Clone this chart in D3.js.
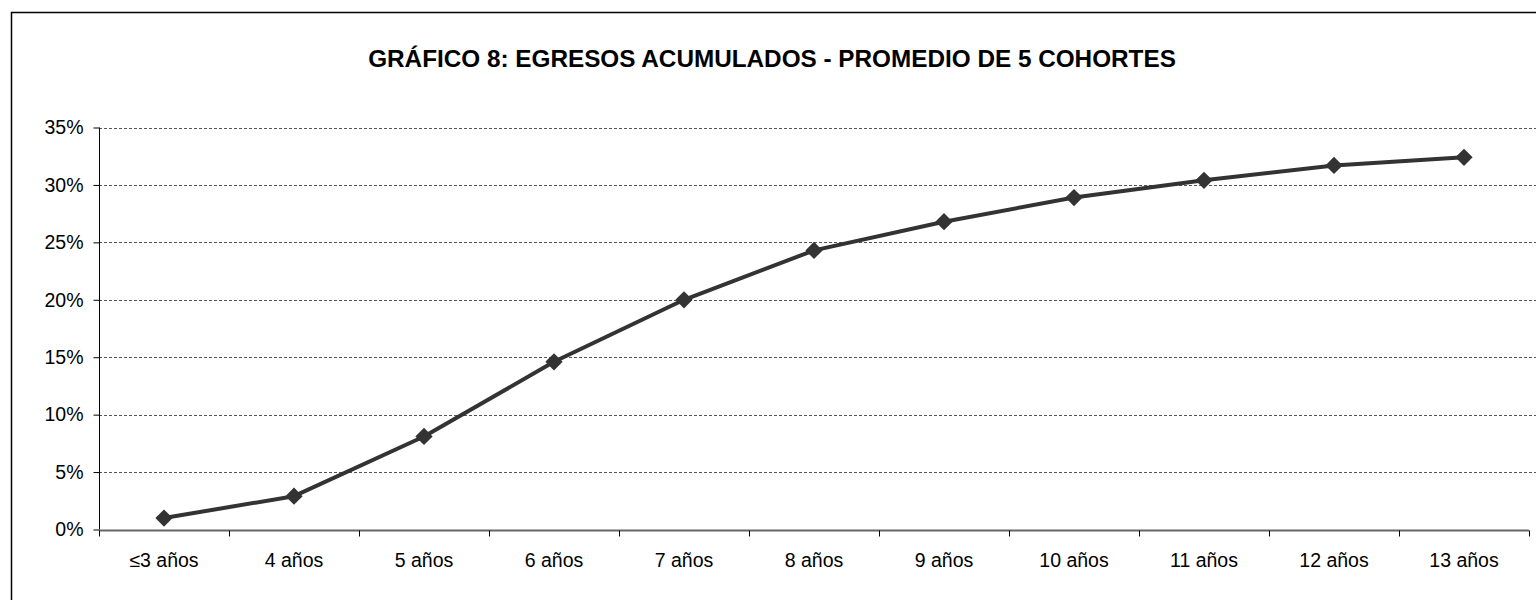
<!DOCTYPE html>
<html lang="es">
<head>
  <meta charset="UTF-8">
  <title>Gráfico 8</title>
  <style>
    body { margin: 0; background: #fff; }
    svg { display: block; font-family: "Liberation Sans", Arial, sans-serif; }
  </style>
</head>
<body>
  <svg id="svg" width="1536" height="600"></svg>
  <script src="https://d3js.org/d3.v7.min.js"></script>
  <script>
    const categories = ['≤3 años', '4 años', '5 años', '6 años', '7 años', '8 años', '9 años', '10 años', '11 años', '12 años', '13 años']
    const values = [1.0, 2.9, 8.1, 14.6, 20.0, 24.3, 26.8, 28.9, 30.4, 31.7, 32.4]
    const yTicks = [0, 5, 10, 15, 20, 25, 30, 35]
    const title = 'GRÁFICO 8: EGRESOS ACUMULADOS - PROMEDIO DE 5 COHORTES'

    const svg = d3.select('#svg')

    // outer frame
    svg.append('rect')
      .attr('x', 11.5).attr('y', 12.5)
      .attr('width', 1540).attr('height', 600)
      .attr('fill', 'none').attr('stroke', '#000').attr('stroke-width', 1.5)

    svg.append('text')
      .attr('x', 772).attr('y', 67)
      .attr('text-anchor', 'middle')
      .style('font-weight', 'bold')
      .style('font-size', '24.3px')
      .text(title)

    const xScale = d3.scaleBand()
      .domain(categories)
      .range([99, 1529])

    const yScale = d3.scaleLinear()
      .domain([0, 35])
      .range([529.5, 127.5])

    // grid lines
    svg.append('g')
      .selectAll('line')
      .data(yTicks.filter(d => d > 0))
      .enter()
      .append('line')
      .attr('x1', 99).attr('x2', 1536)
      .attr('y1', d => Math.round(yScale(d)) + 0.5)
      .attr('y2', d => Math.round(yScale(d)) + 0.5)
      .attr('stroke', '#555')
      .attr('stroke-dasharray', '3,2')
      .attr('stroke-width', 1)

    // y axis
    const yAxis = svg.append('g')
      .attr('transform', 'translate(99.5,0)')
      .call(d3.axisLeft(yScale).tickValues(yTicks).tickSize(6).tickPadding(10).tickFormat(d => d + '%'))
    yAxis.select('.domain').attr('stroke', '#000').attr('d', `M0,${yScale(35)}V${yScale(0)}`)
    yAxis.selectAll('.tick line').attr('stroke', '#000')
    yAxis.selectAll('text')
      .style('font-size', '19.5px')
      .style('font-family', '"Liberation Sans", Arial, sans-serif')
      .attr('fill', '#000')

    // x axis
    const xAxis = svg.append('g')
      .attr('transform', `translate(0,${Math.round(yScale(0)) + 0.5})`)
    xAxis.append('line')
      .attr('x1', 99).attr('x2', 1529)
      .attr('stroke', '#666').attr('stroke-width', 2)
    const bounds = categories.map(c => xScale(c)).concat([xScale.range()[1]])
    xAxis.selectAll('line.tk')
      .data(bounds)
      .enter()
      .append('line')
      .attr('class', 'tk')
      .attr('x1', d => Math.round(d) + 0.5).attr('x2', d => Math.round(d) + 0.5)
      .attr('y1', 0).attr('y2', 6)
      .attr('stroke', '#000')
    xAxis.selectAll('text')
      .data(categories)
      .enter()
      .append('text')
      .attr('x', d => xScale(d) + xScale.bandwidth() / 2)
      .attr('y', 36)
      .attr('text-anchor', 'middle')
      .style('font-size', '19.5px')
      .text(d => d)

    // line
    const points = categories.map((c, i) => [xScale(c) + xScale.bandwidth() / 2, yScale(values[i])])
    svg.append('path')
      .attr('d', d3.line()(points))
      .attr('fill', 'none')
      .attr('stroke', '#333')
      .attr('stroke-width', 4)
      .attr('stroke-linejoin', 'round')

    svg.append('g')
      .selectAll('path')
      .data(points)
      .enter()
      .append('path')
      .attr('d', d3.symbol().type(d3.symbolDiamond2).size(190))
      .attr('transform', d => `translate(${d[0]},${d[1]})`)
      .attr('fill', '#333')
  </script>
</body>
</html>
